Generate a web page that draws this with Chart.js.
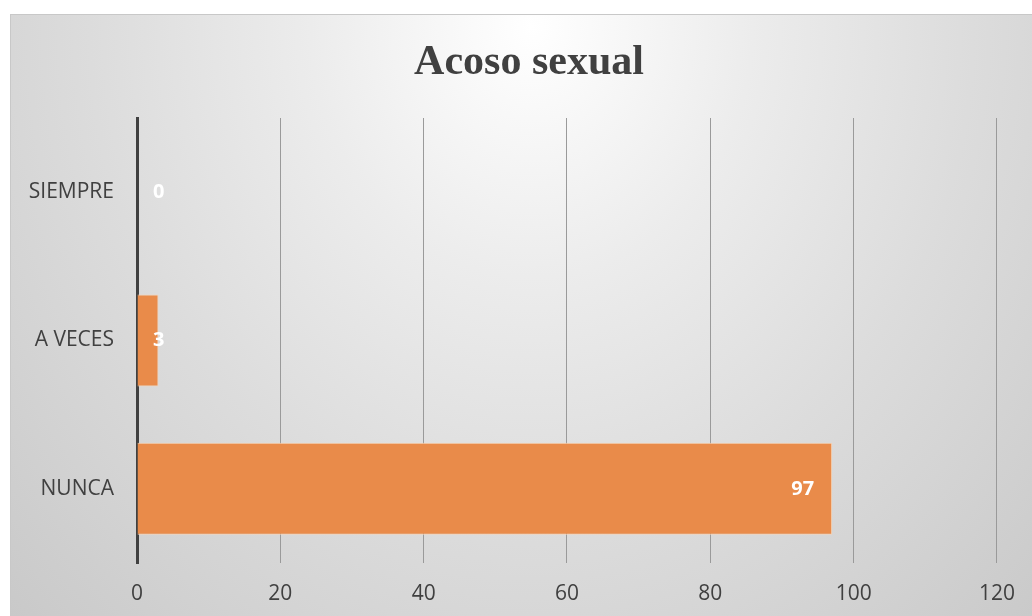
<!DOCTYPE html>
<html>
<head>
<meta charset="utf-8">
<script src="https://cdn.jsdelivr.net/npm/chart.js@4/dist/chart.umd.min.js"></script>
<style>
  html, body { margin: 0; padding: 0; background: #ffffff; }
  #frame {
    position: absolute; left: 10px; top: 14px; width: 1022px; height: 602px;
    border-top: 1px solid #c8c8c8; border-left: 1px solid #c8c8c8;
    box-sizing: border-box;
    background: radial-gradient(ellipse farthest-corner at 51% 2%, #ffffff 0%, #ececec 30%, #dcdcdc 60%, #c9c9c9 100%);
  }
  #myChart { position: absolute; left: 0; top: 0; }
</style>
</head>
<body>
<div id="frame"><canvas id="myChart" width="1022" height="602"></canvas></div>
<script>
// datos del gráfico
const titulo = 'Acoso sexual';
const categorias = ['SIEMPRE', 'A VECES', 'NUNCA'];
const valores = [0, 3, 97];
const ticksX = [0, 20, 40, 60, 80, 100, 120];

const textColor = '#404040';

// título centrado sobre todo el recuadro
const tituloPlugin = {
    id: 'titulo',
    afterDraw(chart) {
        const ctx = chart.ctx;
        ctx.save();
        ctx.font = 'bold 42px "Liberation Serif", "Times New Roman", serif';
        ctx.fillStyle = textColor;
        ctx.textAlign = 'center';
        ctx.textBaseline = 'middle';
        ctx.fillText(titulo, 518, 48);
        ctx.restore();
    }
};

// etiquetas de datos en blanco dentro del extremo de la barra
const etiquetasPlugin = {
    id: 'etiquetas',
    afterDatasetsDraw(chart) {
        const ctx = chart.ctx;
        const meta = chart.getDatasetMeta(0);
        const base = chart.scales.x.getPixelForValue(0);
        ctx.save();
        ctx.font = 'bold 20px "Open Sans"';
        ctx.fillStyle = '#ffffff';
        ctx.textAlign = 'right';
        ctx.textBaseline = 'middle';
        meta.data.forEach((bar, i) => {
            const txt = String(valores[i]);
            const w = ctx.measureText(txt).width;
            const x = Math.max(bar.x - 18, base + 16 + w);
            ctx.fillText(txt, x, bar.y);
        });
        ctx.restore();
    }
};

const ctx = document.getElementById('myChart').getContext('2d');
const myChart = new Chart(ctx, {
    type: 'bar',
    data: {
        labels: categorias,
        datasets: [{
            data: valores,
            backgroundColor: '#e98b4a',
            borderColor: '#f6d3b6',
            borderWidth: 1,
            barPercentage: 0.62,
            categoryPercentage: 1.0
        }]
    },
    options: {
        indexAxis: 'y',
        responsive: false,
        animation: false,
        layout: { padding: { left: 0, right: 35, top: 103, bottom: 12 } },
        plugins: {
            legend: { display: false },
            tooltip: { enabled: false },
            title: { display: false }
        },
        scales: {
            x: {
                min: 0,
                max: 120,
                afterBuildTicks: (axis) => { axis.ticks = ticksX.map(v => ({ value: v })); },
                afterFit: (axis) => { axis.height = 42; },
                grid: {
                    drawTicks: false,
                    color: (c) => c.tick && c.tick.value === 0 ? 'rgba(0,0,0,0)' : '#9a9a9a',
                    lineWidth: 1
                },
                border: { display: false },
                ticks: {
                    color: textColor,
                    padding: 18,
                    font: { family: '"Open Sans"', size: 21 }
                }
            },
            y: {
                afterFit: (axis) => { axis.width = 126; },
                grid: { display: false, drawTicks: false },
                border: { display: true, color: '#404040', width: 3 },
                ticks: {
                    color: textColor,
                    padding: 23,
                    font: { family: '"Open Sans"', size: 21 }
                }
            }
        }
    },
    plugins: [etiquetasPlugin, tituloPlugin]
});
</script>
</body>
</html>
